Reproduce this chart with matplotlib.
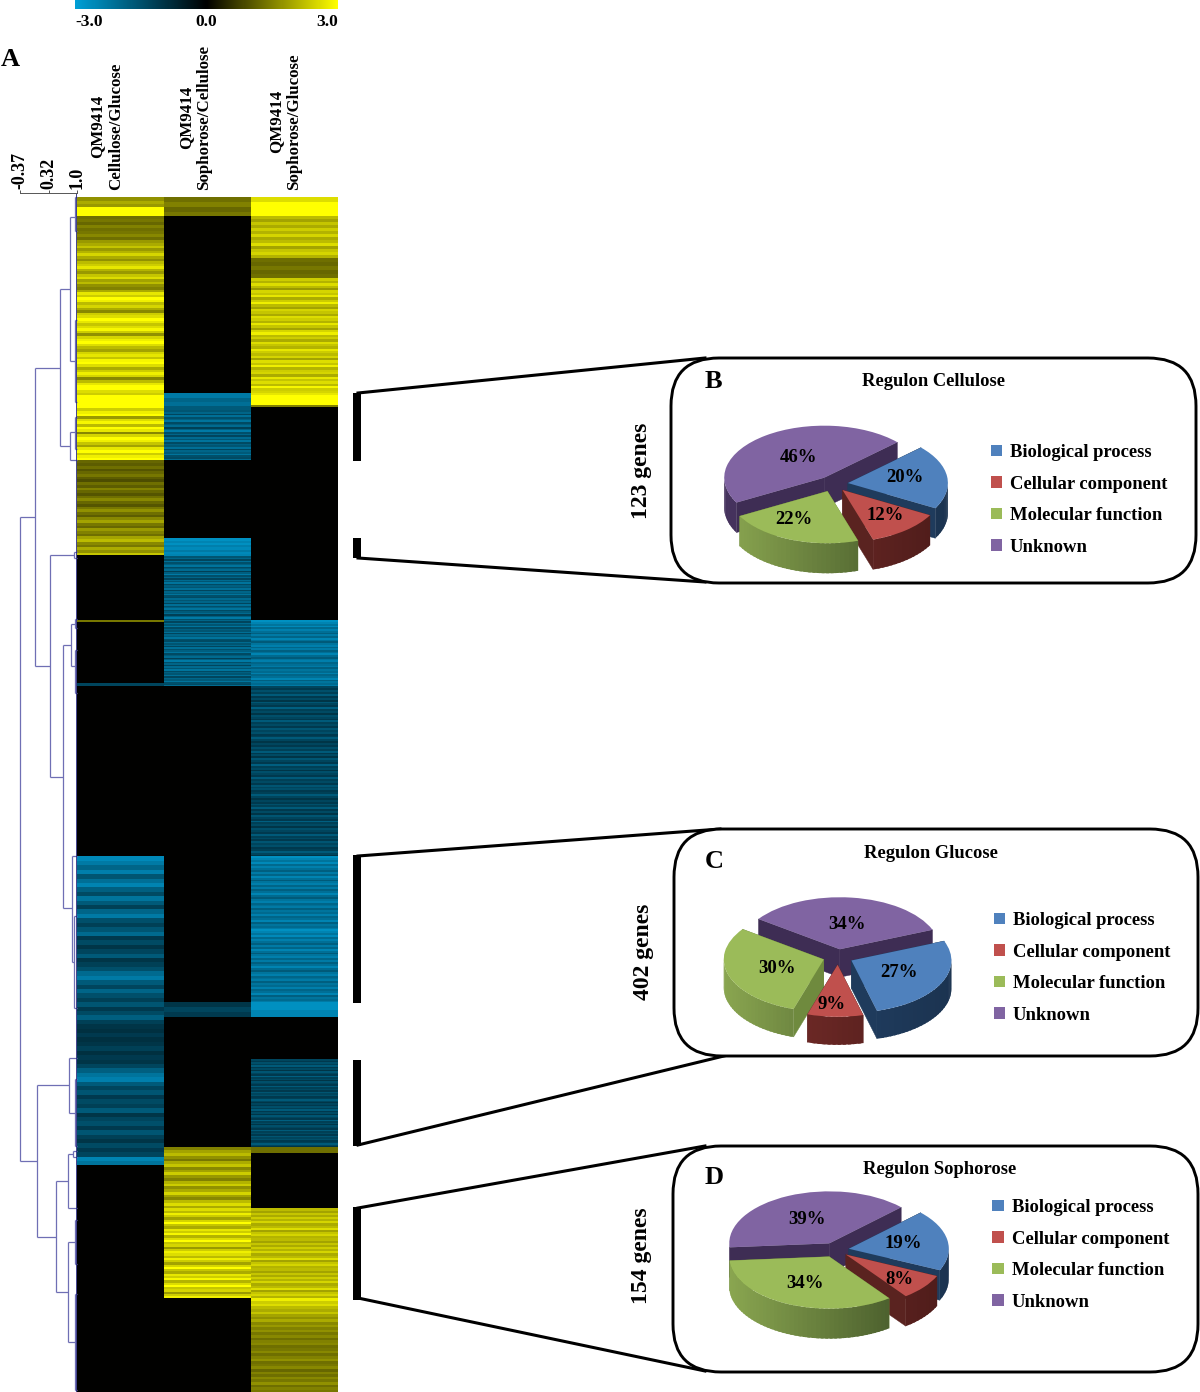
import numpy as np
import matplotlib
matplotlib.use('Agg')
import matplotlib.pyplot as plt
from matplotlib.colors import LinearSegmentedColormap, to_rgb
from matplotlib.patches import FancyBboxPatch, Polygon, Rectangle
from matplotlib.transforms import ScaledTranslation

plt.rcParams['font.family'] = ['Liberation Serif', 'DejaVu Serif']
plt.rcParams['font.weight'] = 'bold'

W, H = 1200, 1392

# ---------- data ----------
column_labels = ['QM9414\nCellulose/Glucose', 'QM9414\nSophorose/Cellulose', 'QM9414\nSophorose/Glucose']
colorbar_ticks = [-3.0, 0.0, 3.0]
tree_ticks = [-0.37, 0.32, 1.0]

yel_mix_a = [1.8,2.0,2.3,1.8,2.1,2.5,2.0,1.7,2.2,2.4,2.7,2.1,1.8,2.3,2.6,1.9,2.2,1.7,1.5,2.0,2.7,2.4,3.0,2.8,2.2,2.5,2.0,1.6,2.4,2.6,
             3.0,2.7,2.3,2.6,2.9,2.4,1.7,2.5,2.8,3.0,2.6,2.2,1.9,2.5,2.7,2.3,2.9,3.0,2.6,2.0,2.4,2.8,2.5,1.6,2.2,2.7,3.0,3.0,2.6,2.4]
yel_mix_b = [2.4,2.8,3.0,1.8,2.6,2.9,2.2,3.0,2.7,1.6,2.5,3.0,2.8,2.3,1.9,2.7,3.0,2.4,2.8,3.0]
olive_a = [1.2,1.1,1.3,1.0,1.2,1.4,1.1,0.9,1.3,1.1,1.5,1.2,1.0,1.3,1.6,1.2,1.0,1.4,1.7,1.3,1.1,1.6,1.9,1.4,1.2,1.8,1.5,1.3,1.9,2.2,1.6,1.4,2.0,1.7,2.3]
olive_b = [1.3,1.4,1.2,1.5,1.3,1.4,1.6,1.3]
olive_c = [1.5,1.9,2.2,1.7,1.4,2.0,2.3,1.6,1.9,2.4,1.8,1.5,2.1,2.4,1.7,2.0,2.5,1.9,1.6,2.2,2.6,2.0]
yel_c = [2.6,2.2,2.8,2.4,1.9,2.5,3.0,2.3,2.0,2.7,2.4,2.9,2.1,2.6,3.0,2.3,2.5,1.8,2.4,2.8]
col3_top = [2.2,1.9,2.3,2.0,2.4,2.1,2.5,2.0,2.2,2.6,1.9,2.3,2.5,2.1]
col3_main = [2.4,2.1,2.6,2.2,1.8,2.5,2.3,2.7,2.0,2.4,2.8,2.2,1.9,2.5,2.3,2.0,2.6,2.4,2.1,2.7,2.3,1.9,2.5,2.8,2.2,2.4,2.0,2.6,2.3,2.1,
             2.7,2.4,2.2,2.5,1.9,2.6,2.3,2.8,2.1,2.4,2.5,2.0,2.7,2.3,2.6,2.2,2.9,2.4,2.5,2.7]
col3_end = [2.8,2.4,2.6,2.2,2.0,2.3,1.9,1.7,2.0,1.6,1.8,1.5,1.7,1.4,1.6,1.3,1.5,1.6,1.3,1.4,1.6,1.3,1.5,1.7,1.3,1.4,1.6,1.2,1.5,1.3,1.6,1.4,1.7,1.3,1.5,1.4]
blue_bright = [-2.7,-2.5,-2.7,-2.4,-2.6,-2.3,-2.6,-2.5]
blue_mid = [-1.6,-1.9,-1.3,-2.1,-1.5,-1.8,-2.2,-1.4,-1.7,-2.0,-1.2,-1.8,-2.3,-1.5,-1.9,-1.3,-2.0,-1.6,-2.2,-1.4,-1.8,-1.6,-2.1,-1.3,-1.9,-1.7,-2.2,-1.5,-1.4,-2.0]
blue_dark = [-1.3,-1.1,-1.5,-1.2,-1.7,-1.1,-1.4,-1.0,-1.6,-1.3,-1.1,-1.8,-1.2,-1.4,-1.0,-1.5,-1.3,-1.1,-1.7,-1.2,-1.4,-1.1,-1.6,-1.3,-1.5,-1.1,-1.2,-1.7,-1.3,-1.0]
blue_c1 = [-2.6,-2.3,-1.9,-2.4,-1.6,-2.1,-2.5,-1.8,-1.4,-2.2,-1.7,-1.2,-1.9,-2.3,-1.5,-1.2,-1.6,-2.0,-1.1,-1.4,-1.0,-1.3,-1.7,-1.0,-1.2,
           -1.5,-2.0,-2.3,-1.7,-1.3,-1.9,-1.5,-1.2,-1.6,-1.1,-1.4,-1.8,-1.2,-1.0,-0.9,-1.1,-0.9,-1.0,-1.2,-0.9,-1.1,-1.0,-1.3,-1.8,-2.2,
           -2.4,-1.7,-1.3,-1.6,-1.1,-1.4,-1.2,-1.7,-1.0,-1.3,-1.5,-1.1,-1.6,-1.2,-1.0,-1.4,-1.1,-1.3,-2.5,-2.2]
blue_c3 = [-2.7,-2.5,-2.2,-2.6,-2.0,-2.4,-2.1,-1.8,-2.3,-1.9,-2.5,-2.1,-1.7,-2.2,-2.4,-1.9,-2.3,-1.8,-2.1,-2.5,-2.0,-1.7,-2.2,-2.4,-1.9,-2.1,-2.3,-1.8,-2.2,-2.0,
           -2.4,-1.9,-2.1,-2.5,-1.8,-2.2,-2.0,-2.3]

# (first row, last row, stripe values) per heatmap column; rows are read top to bottom
column_1 = [(0, 10, [1.7,2.0,1.8]), (10, 19, [3.0]), (19, 43, olive_b), (43, 198, yel_mix_a), (198, 211, [3.0]),
            (211, 263, yel_mix_b), (263, 358, olive_a), (358, 423, [0.0]), (423, 425, [1.4]), (425, 486, [0.0]),
            (486, 489, [-1.3]), (489, 659, [0.0]), (659, 968, blue_c1), (968, 1195, [0.0])]
column_2 = [(0, 19, [1.3,1.5,1.2,1.4]), (19, 196, [0.0]), (196, 213, [-2.3,-1.9,-2.1,-1.7]), (213, 263, blue_mid),
            (263, 341, [0.0]), (341, 359, blue_bright), (359, 489, blue_mid * 3), (489, 805, [0.0]),
            (805, 820, [-1.0,-1.3,-1.1]), (820, 950, [0.0]), (950, 1011, olive_c), (1011, 1101, yel_c * 2), (1101, 1195, [0.0])]
column_3 = [(0, 19, [2.6,3.0,3.0,3.0]), (19, 61, col3_top), (61, 81, [1.3,1.2,1.4,1.2,1.3]), (81, 198, col3_main),
            (198, 208, [3.0]), (208, 210, [1.5]), (210, 423, [0.0]), (423, 489, blue_c3), (489, 659, blue_dark * 3),
            (659, 805, blue_c3 * 2), (805, 820, [-2.7,-2.5]), (820, 862, [0.0]), (862, 950, blue_dark * 2), (950, 956, [1.3]),
            (956, 1011, [0.0]), (1011, 1101, col3_top * 3), (1101, 1195, col3_end)]
columns = [column_1, column_2, column_3]

# dendrogram merges: name -> (correlation, top row, bottom row, top child, bottom child)
tree_nodes = {
    'root': (-0.37, 320, 964, 'A', 'B'),
    'A': (-0.01, 171, 469, 'A1', 'A2'),
    'A1': (0.59, 92, 249, 'A1a', 'A1b'),
    'A1a': (0.84, 20, 164, 'a', 'b'),
    'a': (0.95, 0, 34, None, None),
    'b': (0.95, 123, 205, None, None),
    'A1b': (0.83, 235, 263, 'c', None),
    'c': (0.94, 220, 252, None, None),
    'A2': (0.34, 358, 580, 'd', 'A2b'),
    'd': (0.93, 355, 361, None, None),
    'A2b': (0.66, 448, 711, 'e', 'f'),
    'e': (0.86, 427, 469, 'g', 'h'),
    'g': (0.95, 422, 431, None, None),
    'h': (0.96, 453, 496, None, None),
    'f': (0.87, 659, 765, None, 'i'),
    'i': (0.93, 719, 811, None, None),
    'B': (0.03, 888, 1040, 'B1', 'B2'),
    'B1': (0.80, 861, 916, None, 'j'),
    'j': (0.94, 882, 949, None, None),
    'B2': (0.50, 984, 1095, 'B2a', 'B2b'),
    'B2a': (0.79, 957, 1011, 'k', None),
    'k': (0.90, 954, 960, None, None),
    'B2b': (0.79, 1045, 1145, 'l', 'm'),
    'l': (0.96, 1023, 1067, None, None),
    'm': (0.96, 1097, 1193, None, None),
}

categories = ['Biological process', 'Cellular component', 'Molecular function', 'Unknown']
shares_b = [20, 12, 22, 46]
shares_c = [27, 9, 30, 34]
shares_d = [19, 8, 34, 39]
gene_counts = ['123 genes', '402 genes', '154 genes']
panel_titles = ['Regulon Cellulose', 'Regulon Glucose', 'Regulon Sophorose']
panel_letters = ['B', 'C', 'D']

# ---------- styles ----------
top_colors = ['#4F81BD', '#C0504D', '#9BBB59', '#8064A2']
wall_light = ['#24466E', '#7A2E2B', '#8AA650', '#46335E']
wall_dark = ['#1B3350', '#4E1C1A', '#3E5026', '#352545']
radial_colors = ['#1F3B5C', '#5A2320', '#6F8A3E', '#3E2D54']
serif = ['Liberation Serif', 'DejaVu Serif']

fig = plt.figure(figsize=(W / 100, H / 100), dpi=100)


def px_axes(x0, y0, x1, y1, **kw):
    return fig.add_axes([x0 / W, 1 - y1 / H, (x1 - x0) / W, (y1 - y0) / H], **kw)


# overlay in pixel space for the frames and connectors
ov = px_axes(0, 0, W, H)
ov.set_xlim(0, W)
ov.set_ylim(H, 0)
ov.axis('off')

# ---------- heatmap ----------
cmap = LinearSegmentedColormap.from_list('bky', ['#009FD6', '#000000', '#FFFF00'])
n_rows = 1195
matrix = np.zeros((n_rows, 3))
for c, blocks in enumerate(columns):
    for first, last, stripes in blocks:
        idx = (np.arange(last - first) * len(stripes) // (last - first))
        matrix[first:last, c] = np.asarray(stripes)[idx]

ax_h = px_axes(77, 197, 338, 1392)
im = ax_h.imshow(matrix, cmap=cmap, vmin=-3, vmax=3, aspect='auto', interpolation='nearest',
                 extent=(-0.5, 2.5, n_rows, 0))
ax_h.set_xticks([-0.16, 0.856, 1.89])
ax_h.set_xticklabels(column_labels, rotation=90, fontsize=12.2, fontweight='bold',
                     va='bottom', ha='center', multialignment='center', linespacing=1.2)
ax_h.xaxis.tick_top()
ax_h.tick_params(axis='x', length=0, pad=5)
ax_h.set_yticks([])
for s in ax_h.spines.values():
    s.set_visible(False)

# ---------- colorbar ----------
cax = px_axes(75, 0, 338, 9)
cb = fig.colorbar(im, cax=cax, orientation='horizontal')
cb.outline.set_visible(False)
cb.set_ticks(colorbar_ticks)
cb.set_ticklabels(['%.1f' % t for t in colorbar_ticks], fontsize=12.6, fontweight='bold')
cax.tick_params(axis='x', length=0, pad=3.5)
cax_labels = cax.get_xticklabels()
cax_labels[0].set_ha('left')
cax_labels[2].set_ha('right')

# ---------- dendrogram ----------
ax_t = px_axes(20, 193, 77, 1392)
ax_t.set_xlim(-0.37, 1.0)
ax_t.set_ylim(n_rows, -4)
ax_t.patch.set_alpha(0)
for name in ['left', 'right', 'bottom']:
    ax_t.spines[name].set_visible(False)
ax_t.spines['top'].set_linewidth(0.7)
ax_t.spines['top'].set_color('#555555')
ax_t.set_yticks([])
ax_t.xaxis.tick_top()
ax_t.set_xticks(tree_ticks)
ax_t.set_xticklabels(['-0.37', '0.32', '1.0'], rotation=90, fontsize=13, fontweight='bold')
for lab, shift_px in zip(ax_t.get_xticklabels(), [-1.0, -4.5, -4.5]):
    lab.set_ha('center')
    lab.set_transform(lab.get_transform() + ScaledTranslation(shift_px / 100, 0, fig.dpi_scale_trans))
ax_t.tick_params(axis='x', length=2.5, width=0.7, pad=0.5, color='#555555')
tree_color = '#6F6FB4'
for corr, top, bot, top_child, bot_child in tree_nodes.values():
    ax_t.plot([corr, corr], [top, bot], color=tree_color, lw=0.9, solid_capstyle='butt', clip_on=False)
    for row, child in ((top, top_child), (bot, bot_child)):
        end = tree_nodes[child][0] if child else 1.0
        ax_t.plot([corr, end], [row, row], color=tree_color, lw=0.9, solid_capstyle='butt', clip_on=False)
ax_t.axvline(1.0, color='#22227A', lw=1.2, ymin=0, ymax=1)
ov.text(10, 60, 'A', fontsize=19, fontweight='bold', ha='center', va='center')

# ---------- connectors and frames ----------
cluster_bars = [(393, 461), (538, 558), (855, 1003), (1060, 1146), (1207, 1300)]
for y0, y1 in cluster_bars:
    ov.add_patch(Rectangle((353, y0), 8, y1 - y0, color='black', lw=0))
connectors = [((358, 393), (705, 358)), ((358, 558), (705, 582)), ((358, 856), (720, 829)),
              ((358, 1145), (728, 1055)), ((358, 1208), (705, 1146)), ((358, 1298), (705, 1371))]
for (x0, y0), (x1, y1) in connectors:
    ov.plot([x0, x1], [y0, y1], color='black', lw=2.2)
frames = [(671, 358, 1196, 583), (674, 829, 1198, 1056), (673, 1146, 1198, 1372)]
for x0, y0, x1, y1 in frames:
    ov.add_patch(FancyBboxPatch((x0 + 48, y0 + 48), x1 - x0 - 96, y1 - y0 - 96,
                                boxstyle='round,pad=48,rounding_size=48',
                                fc='white', ec='black', lw=2.1, zorder=3))

RX, RY = 100.0, 52.0


def mix(a, b, f):
    a, b = np.array(to_rgb(a)), np.array(to_rgb(b))
    return tuple(a + (b - a) * f)


def draw_pie(center, shares, start, explode, depth, label_xy):
    cx, cy = center
    ax = px_axes(cx - 150, cy - 100, cx + 150, cy + 100, zorder=5)
    wedges, _, autos = ax.pie(shares, explode=[explode] * len(shares), colors=top_colors, startangle=start,
                              counterclock=False, autopct='%.0f%%', radius=1.0,
                              textprops=dict(fontsize=13.5, fontweight='bold', color='black'))
    ax.set_aspect('auto')
    ax.set_xlim(-1.5, 1.5)
    ax.set_ylim(-100 / RY, 100 / RY)
    ax.axis('off')
    d = depth / RY
    order = sorted(range(len(wedges)),
                   key=lambda k: -(wedges[k].center[1] + 0.6 * np.sin(np.radians((wedges[k].theta1 + wedges[k].theta2) / 2))))
    for rank, k in enumerate(order):
        w = wedges[k]
        z = 2 + rank
        ax0, ay0 = w.center
        for th in (w.theta1, w.theta2):
            px_, py_ = ax0 + np.cos(np.radians(th)), ay0 + np.sin(np.radians(th))
            ax.add_patch(Polygon([(ax0, ay0), (px_, py_), (px_, py_ - d), (ax0, ay0 - d)],
                                 fc=radial_colors[k], ec=radial_colors[k], lw=0.3, zorder=z))
        ts = np.linspace(w.theta1, w.theta2, int(max(4, (w.theta2 - w.theta1) / 2.5)))
        step = ts[1] - ts[0]
        for t0, t1 in zip(ts[:-1], ts[1:]):
            mid = np.radians((t0 + t1) / 2)
            if np.sin(mid) >= 0.02:
                continue
            t_end = min(t1 + step * 0.6, w.theta2)
            arc = np.radians(np.linspace(t0, t_end, 4))
            xs, ys = ax0 + np.cos(arc), ay0 + np.sin(arc)
            col = mix(wall_light[k], wall_dark[k], (np.cos(mid) + 1) / 2)
            pts = list(zip(xs, ys)) + list(zip(xs[::-1], ys[::-1] - d))
            ax.add_patch(Polygon(pts, fc=col, ec='none', lw=0, zorder=z + 0.2))
        w.set_zorder(z + 0.5)
        w.set_linewidth(0)
    for t, (lx, ly) in zip(autos, label_xy):
        t.set_position(((lx - cx) / RX, -(ly - cy) / RY))
        t.set_ha('center')
        t.set_va('center')
        t.set_zorder(20)
    return ax, wedges


pie_specs = [
    (shares_b, (833, 484), 43, 0.15, 30, [(905, 478), (885, 515), (794, 519), (798, 458)]),
    (shares_c, (838, 957), 22, 0.15, 28, [(899, 972), (832, 1004), (777, 968), (847, 924)]),
    (shares_d, (835, 1250), 44, 0.14, 30, [(903, 1243), (899, 1280), (805, 1283), (807, 1219)]),
]
legend_xy = [(990.5, 444), (993.5, 912), (992.5, 1199)]
title_xy = [(933, 382), (931, 854), (940, 1170)]
letter_xy = [(713, 382), (714, 862), (714, 1178)]
genes_xy = [(642, 471), (643, 952), (642, 1256)]

for i, (shares, center, start, expl, depth, labxy) in enumerate(pie_specs):
    ax, wedges = draw_pie(center, shares, start, expl, depth, labxy)
    lg = fig.legend(wedges, categories, loc='upper left',
                    bbox_to_anchor=(legend_xy[i][0] / W, 1 - legend_xy[i][1] / H), frameon=False,
                    prop=dict(family=serif, weight='bold', size=13.4), handlelength=0.6, handleheight=0.6,
                    handletextpad=0.43, labelspacing=0.78, borderpad=0, borderaxespad=0)
    lg.set_zorder(30)
    ov.text(*title_xy[i], panel_titles[i], fontsize=13.3, fontweight='bold', ha='center', va='center', zorder=6)
    ov.text(*letter_xy[i], panel_letters[i], fontsize=19, fontweight='bold', ha='center', va='center', zorder=6)
    ov.text(*genes_xy[i], gene_counts[i], fontsize=17, fontweight='bold', rotation=90, ha='center', va='center', zorder=6)

fig.savefig('out.png', dpi=100)
